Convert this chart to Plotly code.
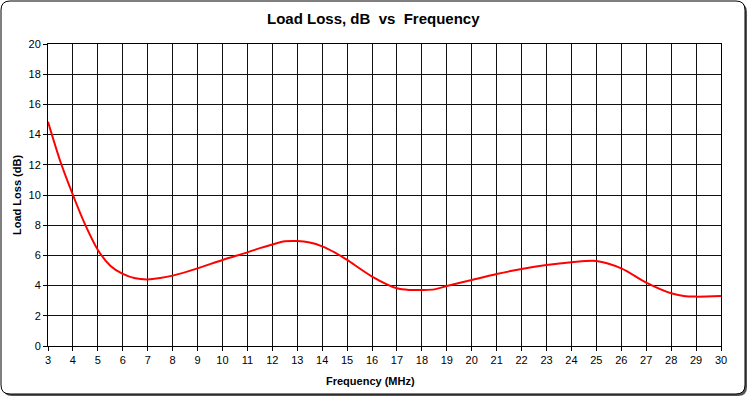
import plotly.graph_objects as go

freq = [3, 3.5, 4, 4.5, 5, 5.5, 6, 6.5, 7, 7.5, 8, 9, 10, 11, 11.5, 12, 12.5, 13, 13.5, 14, 14.5,
        15, 16, 17, 17.5, 18, 18.5, 19, 20, 21, 22, 23, 24, 25, 26, 27, 28, 28.5, 29, 30]
loss = [14.85, 12.2, 10.0, 8.0, 6.36, 5.32, 4.77, 4.48, 4.41, 4.5, 4.66, 5.14, 5.7, 6.2, 6.48, 6.72, 6.93, 6.95, 6.85, 6.6, 6.2,
        5.7, 4.6, 3.82, 3.71, 3.71, 3.75, 3.97, 4.37, 4.77, 5.1, 5.36, 5.54, 5.63, 5.14, 4.2, 3.49, 3.31, 3.27, 3.31]
x_ticks = list(range(3, 31))
y_ticks = list(range(0, 21, 2))

W, H = 748, 397
L, R, T, B = 48, 721, 44, 346
pw, ph = R - L, B - T

def px(x):
    return (x - L) / pw

def py(y):
    return (B - y) / ph

def rrect(x0, y0, x1, y1, r):
    return (f"M {px(x0+r)},{py(y0)} L {px(x1-r)},{py(y0)} Q {px(x1)},{py(y0)} {px(x1)},{py(y0+r)} "
            f"L {px(x1)},{py(y1-r)} Q {px(x1)},{py(y1)} {px(x1-r)},{py(y1)} "
            f"L {px(x0+r)},{py(y1)} Q {px(x0)},{py(y1)} {px(x0)},{py(y1-r)} "
            f"L {px(x0)},{py(y0+r)} Q {px(x0)},{py(y0)} {px(x0+r)},{py(y0)} Z")

fig = go.Figure()
fig.add_trace(go.Scatter(x=freq, y=loss, mode="lines",
                         line=dict(color="#ff0000", width=2, shape="spline", smoothing=0.8),
                         hoverinfo="skip", showlegend=False))

font = "Liberation Sans, Arial, sans-serif"
fig.update_layout(
    width=W, height=H,
    margin=dict(l=L, r=W - R, t=T, b=H - B),
    paper_bgcolor="white", plot_bgcolor="rgba(0,0,0,0)",
    font=dict(family=font, size=11, color="black"),
    xaxis=dict(range=[3, 30], tickvals=x_ticks, showgrid=True, gridcolor="#111111", gridwidth=1,
               showline=True, linecolor="black", linewidth=1, mirror=True,
               ticks="outside", ticklen=4, tickcolor="black", zeroline=False,
               tickfont=dict(size=11)),
    yaxis=dict(range=[0, 20], tickvals=y_ticks, showgrid=True, gridcolor="#111111", gridwidth=1,
               showline=True, linecolor="black", linewidth=1, mirror=True,
               ticks="outside", ticklen=4, tickcolor="black", zeroline=False,
               tickfont=dict(size=11)),
    shapes=[
        dict(type="path", xref="paper", yref="paper", path=rrect(3, 3, 747, 396, 9),
             fillcolor="#555555", line=dict(width=0), layer="below"),
        dict(type="path", xref="paper", yref="paper", path=rrect(1, 1, 745, 394, 9),
             fillcolor="white", line=dict(color="black", width=1), layer="below"),
    ],
    annotations=[
        dict(text="<b>Load Loss, dB  vs  Frequency</b>", xref="paper", yref="paper",
             x=px(373), y=py(19), showarrow=False, font=dict(size=15, family=font),
             xanchor="center", yanchor="middle"),
        dict(text="<b>Frequency (MHz)</b>", xref="paper", yref="paper",
             x=px(370), y=py(381), showarrow=False, font=dict(size=11, family=font),
             xanchor="center", yanchor="middle"),
        dict(text="<b>Load Loss (dB)</b>", xref="paper", yref="paper",
             x=px(17), y=py(195), showarrow=False, font=dict(size=11, family=font),
             xanchor="center", yanchor="middle", textangle=-90),
    ],
)

fig.write_html("out.html", config={"displayModeBar": False},
               post_script="document.body.style.margin='0';document.body.style.overflow='hidden';")
